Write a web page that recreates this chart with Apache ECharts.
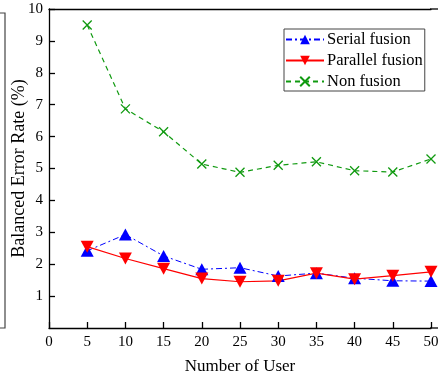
<!DOCTYPE html>
<html><head><meta charset="utf-8">
<script src="https://cdn.jsdelivr.net/npm/echarts@6/dist/echarts.min.js"></script>
<style>html,body{margin:0;padding:0;background:#fff}#c{width:438px;height:379px}</style>
</head><body><div id="c"></div>
<script>
const users = [5, 10, 15, 20, 25, 30, 35, 40, 45, 50];
const serialFusion = [2.42, 2.93, 2.26, 1.84, 1.89, 1.63, 1.72, 1.56, 1.48, 1.47];
const parallelFusion = [2.55, 2.18, 1.86, 1.55, 1.45, 1.48, 1.72, 1.53, 1.64, 1.76];
const nonFusion = [9.5, 6.87, 6.15, 5.14, 4.88, 5.10, 5.21, 4.93, 4.89, 5.30];
const seriesNames = ['Serial fusion', 'Parallel fusion', 'Non fusion'];
const xAxisTitle = 'Number of User';
const yAxisTitle = 'Balanced Error Rate (%)';

const pair = (vals) => users.map((u, i) => [u, vals[i]]);
const FONT = 'Liberation Serif';
const chart = echarts.init(document.getElementById('c'), null, {renderer: 'canvas'});
chart.setOption({
  animation: false,
  backgroundColor: '#fff',
  textStyle: {fontFamily: FONT, color: '#000'},
  grid: {left: 49, right: 7, top: 9, bottom: 51, containLabel: false, outerBoundsMode: 'none'},
  xAxis: [{
    type: 'value', min: 0, max: 50, interval: 5,
    name: xAxisTitle, nameLocation: 'middle', nameGap: 30,
    nameTextStyle: {fontFamily: FONT, fontSize: 17, color: '#000'},
    axisLine: {show: true, lineStyle: {color: '#000', width: 1.3}},
    axisTick: {show: true, inside: true, length: 6, lineStyle: {color: '#000', width: 1.3}},
    axisLabel: {fontFamily: FONT, fontSize: 15, color: '#000', margin: 7},
    splitLine: {show: false}
  }, {
    type: 'value', min: 0, max: 50, position: 'top',
    axisLine: {show: true, lineStyle: {color: '#000', width: 1.3}},
    axisTick: {show: false}, axisLabel: {show: false}, splitLine: {show: false}
  }],
  yAxis: {
    type: 'value', min: 0, max: 10, interval: 1,
    name: yAxisTitle, nameLocation: 'middle', nameGap: 21, nameMoveOverlap: false,
    nameTextStyle: {fontFamily: FONT, fontSize: 18, color: '#000'},
    axisLine: {show: true, lineStyle: {color: '#000', width: 1.3}},
    axisTick: {show: true, inside: true, length: 6, lineStyle: {color: '#000', width: 1.3}},
    axisLabel: {fontFamily: FONT, fontSize: 15, color: '#000', margin: 6, showMinLabel: false},
    splitLine: {show: false}
  },
  legend: {
    left: 284, top: 29, orient: 'vertical',
    data: seriesNames,
    backgroundColor: '#fff',
    borderColor: '#444', borderWidth: 1,
    padding: [2, 2, 1, 1], itemGap: 4,
    itemWidth: 38, itemHeight: 12,
    textStyle: {fontFamily: FONT, fontSize: 16.5, color: '#000', padding: [0, 0, 0, -2]}
  },
  series: [{
    name: seriesNames[0], type: 'line', data: pair(serialFusion),
    symbol: 'triangle', symbolSize: [13, 12],
    itemStyle: {color: '#0000ff'},
    lineStyle: {color: '#0000ff', width: 1, type: [6, 3, 2, 3]}
  }, {
    name: seriesNames[1], type: 'line', data: pair(parallelFusion),
    symbol: 'triangle', symbolRotate: 180, symbolSize: [13, 12],
    itemStyle: {color: '#ff0000'},
    lineStyle: {color: '#ff0000', width: 1.2, type: 'solid'}
  }, {
    name: seriesNames[2], type: 'line', data: pair(nonFusion),
    symbol: 'path://M0,0L10,10M10,0L0,10', symbolSize: 9,
    itemStyle: {color: '#fff', borderColor: '#109a10', borderWidth: 1.3},
    lineStyle: {color: '#109a10', width: 1.2, type: [5, 4]}
  }],
  graphic: [
    {type: 'polyline', shape: {points: [[0, 13], [5, 13], [5, 328], [0, 328]]},
     style: {stroke: '#444', fill: null, lineWidth: 1.2}, silent: true},
    {type: 'line', shape: {x1: 430, y1: 9, x2: 438, y2: 9},
     style: {stroke: '#000', lineWidth: 1.3}, silent: true},
    {type: 'line', shape: {x1: 430, y1: 328, x2: 438, y2: 328},
     style: {stroke: '#000', lineWidth: 1.3}, silent: true}
  ]
});
</script></body></html>
